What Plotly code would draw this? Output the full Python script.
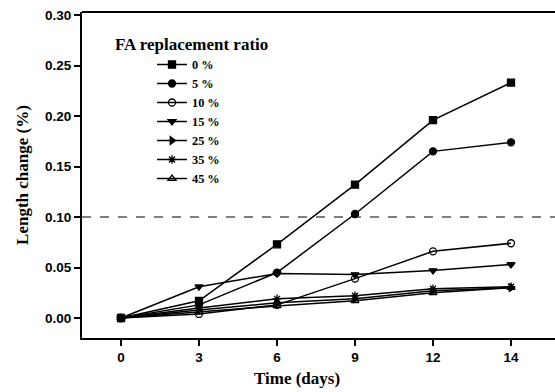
import plotly.graph_objects as go

days = ["0", "3", "6", "9", "12", "14"]
ratio_labels = ["0 %", "5 %", "10 %", "15 %", "25 %", "35 %", "45 %"]
r0 = [0.000, 0.017, 0.073, 0.132, 0.196, 0.233]
r5 = [0.000, 0.013, 0.045, 0.103, 0.165, 0.174]
r10 = [0.000, 0.004, 0.013, 0.039, 0.066, 0.074]
r15 = [0.000, 0.031, 0.044, 0.043, 0.047, 0.053]
r25 = [0.000, 0.008, 0.015, 0.019, 0.027, 0.030]
r35 = [0.000, 0.010, 0.019, 0.022, 0.029, 0.031]
r45 = [0.000, 0.006, 0.012, 0.017, 0.025, 0.030]
series = [r0, r5, r10, r15, r25, r35, r45]
symbols = ["square", "circle", "circle-open", "triangle-down", "triangle-right",
           "asterisk-open", "triangle-up-open"]
limit_value = 0.10
y_ticks = [0.0, 0.05, 0.10, 0.15, 0.20, 0.25, 0.30]

x_idx = list(range(len(days)))
fig = go.Figure()
for name, vals, sym in zip(ratio_labels, series, symbols):
    fig.add_trace(go.Scatter(
        x=x_idx, y=vals, name=name, mode="lines+markers",
        line=dict(color="black", width=1.5),
        marker=dict(symbol=sym, size=7, color="black",
                    line=dict(color="black", width=1.3)),
    ))

fig.add_hline(y=limit_value, line=dict(color="black", width=1, dash="dash"))
fig.add_shape(type="line", xref="paper", yref="paper", x0=0, x1=1, y0=1, y1=1,
              line=dict(color="black", width=2))

tickfont = dict(family="Liberation Sans", size=13.5, color="black", weight="bold")
titlefont = dict(family="Liberation Serif", size=17, color="black", weight="bold")

T, B, L, R = 12, 54, 82, 0
PH = 392 - T - B
PW = 555 - L - R

fig.update_layout(
    width=555, height=392,
    margin=dict(l=L, r=R, t=T, b=B),
    plot_bgcolor="white", paper_bgcolor="white",
    showlegend=True,
    legend=dict(
        x=(152 - L) / PW, y=1 - (50 - T) / PH, xanchor="left", yanchor="top",
        font=dict(family="Liberation Serif", size=12.3, color="black", weight="bold"),
        bgcolor="rgba(0,0,0,0)", itemwidth=30, tracegroupgap=0,
    ),
    annotations=[
        dict(text="FA replacement ratio", xref="paper", yref="paper",
             x=(113 - L) / PW, y=1 - (45 - T) / PH, xanchor="left", yanchor="middle",
             showarrow=False, font=titlefont),
        dict(text="Time (days)", xref="paper", yref="paper",
             x=(297 - L) / PW, y=-(378 - T - PH) / PH, xanchor="center",
             yanchor="middle", showarrow=False, font=titlefont),
    ],
)

fig.update_xaxes(
    range=[-0.5, -0.5 + PW / 78.0], tickmode="array", tickvals=x_idx, ticktext=days,
    showline=True, linecolor="black", linewidth=2, mirror=False,
    ticks="outside", ticklen=6, tickwidth=1.5, tickcolor="black",
    showgrid=False, zeroline=False, tickfont=tickfont,
)
fig.update_yaxes(
    range=[-0.0198, 0.303], tickmode="array", tickvals=y_ticks, tickformat=".2f",
    showline=True, linecolor="black", linewidth=2, mirror=False,
    ticks="outside", ticklen=6, tickwidth=1.5, tickcolor="black",
    showgrid=False, zeroline=False, tickfont=tickfont,
    title=dict(text="Length change (%)", font=titlefont, standoff=12),
)

fig.write_html("out.html")
